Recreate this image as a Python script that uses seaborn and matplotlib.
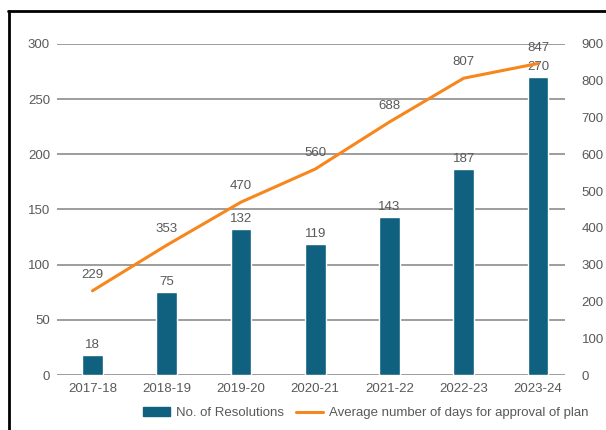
import matplotlib
matplotlib.use("Agg")
import matplotlib.pyplot as plt
import seaborn as sns
import pandas as pd
from matplotlib.lines import Line2D

years = ["2017-18", "2018-19", "2019-20", "2020-21", "2021-22", "2022-23", "2023-24"]
resolutions = [18, 75, 132, 119, 143, 187, 270]
avg_days = [229, 353, 470, 560, 688, 807, 847]

sns.set_theme(style="white")
plt.rcParams["font.family"] = ["Liberation Sans", "DejaVu Sans"]

grey = "#595959"
bar_col = "#106180"
line_col = "#f7861c"
fs = 9.5

df = pd.DataFrame({"year": years, "res": resolutions, "days": avg_days})

fig = plt.figure(figsize=(6.06, 4.30), dpi=100)
W, H = 606, 430
ax = fig.add_axes([57 / W, 1 - 375 / H, (565 - 57) / W, (375 - 44) / H])

sns.barplot(data=df, x="year", y="res", color=bar_col, width=0.28, ax=ax,
            saturation=1, zorder=3)
ax.set_ylim(0, 300)
ax.set_yticks(range(0, 301, 50))
ax.set_xlim(-0.478, 6.364)
ax.yaxis.grid(True, color="#8c8c8c", linewidth=1.2, zorder=0)
ax.set_axisbelow(True)
for s in ax.spines.values():
    s.set_visible(False)
ax.set_xlabel("")
ax.set_ylabel("")
ax.tick_params(axis="both", length=0, colors=grey, labelsize=fs)
ax.tick_params(axis="y", pad=5)
ax.tick_params(axis="x", pad=6)

for i, v in enumerate(resolutions):
    ax.annotate(str(v), (i, v), xytext=(0, 3), textcoords="offset points",
                ha="center", va="bottom", color=grey, fontsize=fs)

ax2 = ax.twinx()
sns.lineplot(x=list(range(len(years))), y=avg_days, color=line_col, linewidth=2.2,
             ax=ax2, legend=False)
ax2.set_ylim(0, 900)
ax2.set_yticks(range(0, 901, 100))
ax2.set_xlim(-0.478, 6.364)
for s in ax2.spines.values():
    s.set_visible(False)
ax2.tick_params(axis="y", length=0, colors=grey, labelsize=fs, pad=12)
ax2.set_ylabel("")

for i, v in enumerate(avg_days):
    ax2.annotate(str(v), (i, v), xytext=(0, 7), textcoords="offset points",
                 ha="center", va="bottom", color=grey, fontsize=fs)

handles = [plt.Rectangle((0, 0), 1, 1, color=bar_col),
           Line2D([0], [0], color=line_col, linewidth=2.2)]
fig.legend(handles, ["No. of Resolutions", "Average number of days for approval of plan"],
           loc="center", bbox_to_anchor=(366 / W, 1 - 413 / H), ncol=2, frameon=False,
           fontsize=fs, labelcolor=grey, handlelength=2.0, columnspacing=0.9,
           handletextpad=0.5)

# outer frame of the original picture
fig.add_artist(Line2D([9 / W, 9 / W], [0, 1 - 11 / H], color="black", linewidth=2,
                      transform=fig.transFigure))
fig.add_artist(Line2D([8 / W, 1], [1 - 11 / H, 1 - 11 / H], color="black", linewidth=2,
                      transform=fig.transFigure))

fig.savefig("out.png", dpi=100)
